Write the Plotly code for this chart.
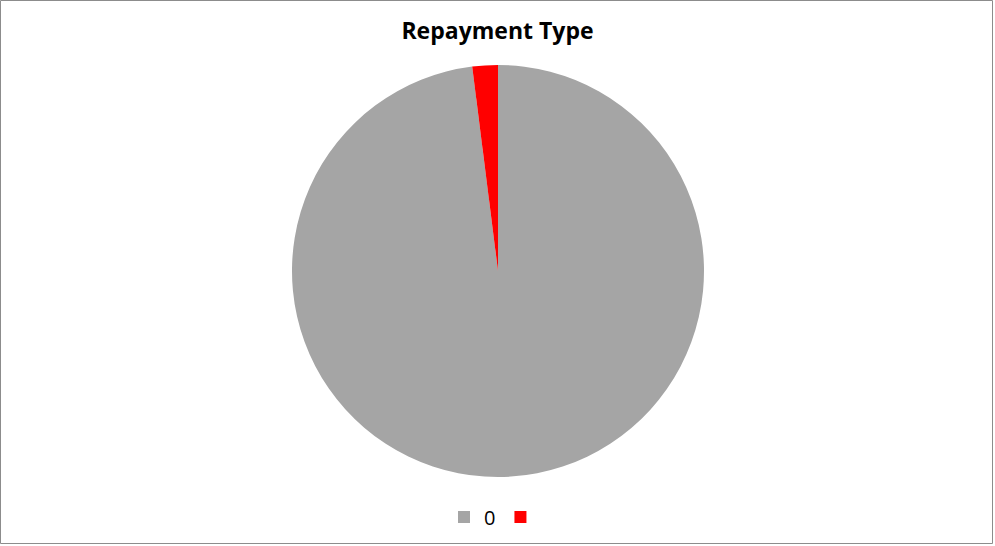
import plotly.graph_objects as go

# Repayment type breakdown
labels = ["0", " "]
values = [98, 2]
colors = ["#A5A5A5", "#FF0000"]

W, H = 995, 546

fig = go.Figure(
    go.Pie(
        labels=labels,
        values=values,
        marker=dict(colors=colors, line=dict(width=0)),
        sort=False,
        direction="clockwise",
        rotation=0,
        textinfo="none",
        hoverinfo="label+value+percent",
        domain=dict(x=[292 / W, 704 / W], y=[69 / H, 481 / H]),
    )
)

fig.update_layout(
    width=W,
    height=H,
    margin=dict(l=0, r=0, t=0, b=0),
    paper_bgcolor="white",
    plot_bgcolor="white",
    title=dict(
        text="<b>Repayment Type</b>",
        x=0.5,
        xanchor="center",
        y=1 - 31 / H,
        yanchor="middle",
        font=dict(family="Open Sans, Liberation Sans, sans-serif", size=23, color="#000000"),
    ),
    legend=dict(
        orientation="h",
        x=0.5,
        xanchor="center",
        y=1 - 517 / H,
        yanchor="middle",
        font=dict(family="Open Sans, Liberation Sans, sans-serif", size=20, color="#000000"),
        itemwidth=30,
        traceorder="normal",
    ),
    showlegend=True,
    shapes=[
        dict(
            type="rect",
            xref="paper",
            yref="paper",
            x0=0.5 / W,
            x1=1 - 2.5 / W,
            y0=2.5 / H,
            y1=1 - 0.5 / H,
            line=dict(color="#8C8C8C", width=1),
            fillcolor="rgba(0,0,0,0)",
        )
    ],
)

fig.write_html("out.html")
